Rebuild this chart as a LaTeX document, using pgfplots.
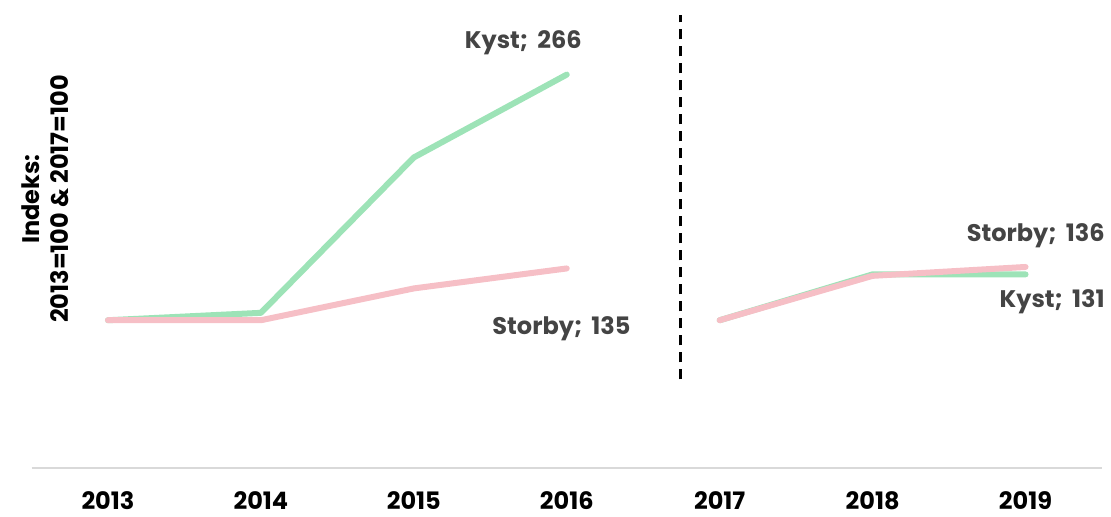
\documentclass[border=0pt]{standalone}
\usepackage{fontspec}
\setmainfont{Poppins}
\usepackage{pgfplots}
\pgfplotsset{compat=1.18}
\definecolor{kyst}{HTML}{9DE3B7}
\definecolor{storby}{HTML}{F6BFC6}
\definecolor{lbl}{HTML}{444444}

\pgfplotstableread{
x y
0 100
1 105
2 210
3 266
}\kystA
\pgfplotstableread{
x y
4 100
5 131
6 131
}\kystB
\pgfplotstableread{
x y
0 100
1 100
2 121.5
3 135
}\storbyA
\pgfplotstableread{
x y
4 100
5 130
6 136
}\storbyB

\begin{document}
\begin{tikzpicture}
\begin{axis}[
  name=ax,
  scale only axis, width=535pt, height=230pt,
  xmin=-0.5, xmax=6.5, ymin=0, ymax=311,
  axis x line=bottom, axis y line=none,
  axis line style={draw=black!15, line width=0.8pt, -},
  xtick={0,...,6}, xticklabels={2013,2014,2015,2016,2017,2018,2019},
  major tick length=0pt,
  xticklabel style={font=\fontsize{12}{14}\selectfont\bfseries, yshift=-8pt},
  ytick=\empty,
  clip=false,
  every axis plot/.append style={line width=3pt, line cap=round, line join=round},
]
\addplot[kyst] table[x=x,y=y] {\kystA};
\addplot[storby] table[x=x,y=y] {\storbyA};
\addplot[kyst] table[x=x,y=y] {\kystB};
\addplot[storby] table[x=x,y=y] {\storbyB};
\addplot[black, line width=1.2pt, line cap=butt, dash pattern=on 5pt off 3.5pt] coordinates {(3.745,60) (3.745,306)};
\begin{scope}[every node/.style={font=\fontsize{12}{14}\selectfont\bfseries, text=lbl, anchor=east, inner sep=0pt}]
\node at (axis cs:3.10,287.5) {Kyst;\, 266};
\node at (axis cs:3.42,94.6) {Storby;\, 135};
\node at (axis cs:6.52,157.4) {Storby;\, 136};
\node at (axis cs:6.52,112.8) {Kyst;\, 131};
\end{scope}
\node[rotate=90, align=center, font=\fontsize{12}{14.5}\selectfont\bfseries, inner sep=0pt]
  at (rel axis cs:0.0125,0.585) {Indeks:\\2013=100 \& 2017=100};
\end{axis}
\path[use as bounding box] ([shift={(-15.75pt,-22pt)}]ax.south west) rectangle ([shift={(4.5pt,4pt)}]ax.north east);
\end{tikzpicture}
\end{document}
